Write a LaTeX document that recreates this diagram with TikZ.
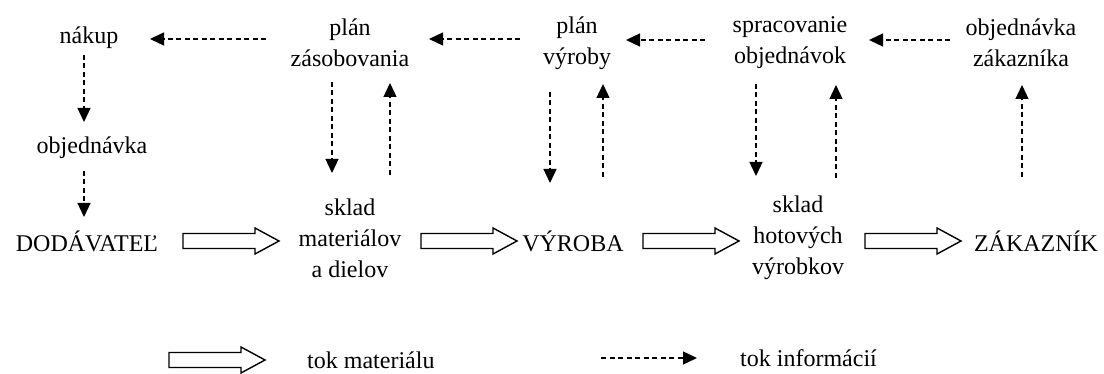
\documentclass[tikz,border=0pt]{standalone}
\usepackage{fontspec}
\setmainfont{Liberation Serif}
\usetikzlibrary{arrows.meta,calc}
\begin{document}
\begin{tikzpicture}[x=1pt,y=-1pt,
  every node/.style={font=\fontsize{24}{31}\selectfont, inner sep=0pt},
  lbl/.style={align=center},
  info/.style={draw=black, line width=1.3pt, dash pattern=on 5pt off 3.5pt,
    -{Triangle[width=13pt,length=14pt]}},
  matarrow/.pic={
    \draw[line width=1.4pt, fill=white, line join=miter]
      (-48,-7.5) -- (24,-7.5) -- (24,-13) -- (48,0) -- (24,13) -- (24,7.5)
      -- (-48,7.5) -- cycle;
  }
]
\useasboundingbox (0,0) rectangle (1104,374);

% information row
\node[lbl] (nakup) at (89,38)   {nákup};
\node[lbl] (objn)  at (92,148)  {objednávka};
\node[lbl] (zas)   at (350,43)  {plán\\zásobovania};
\node[lbl] (vyr)   at (577,43)  {plán\\výroby};
\node[lbl] (spr)   at (790,43)  {spracovanie\\objednávok};
\node[lbl] (obz)   at (1021,43) {objednávka\\zákazníka};

% material row
\node[lbl] (dod)    at (87,241)   {DODÁVATEĽ};
\node[lbl] (skm)    at (350,238)  {sklad\\materiálov\\a dielov};
\node[lbl] (vyroba) at (573,241)  {VÝROBA};
\node[lbl] (skh)    at (798,238)  {sklad\\hotových\\výrobkov};
\node[lbl] (zak)    at (1036,241) {ZÁKAZNÍK};

% material flow
\pic at (231,241) {matarrow};
\pic at (469,241) {matarrow};
\pic at (691,241) {matarrow};
\pic at (913,241) {matarrow};

% information flow, horizontal
\draw[info] ($(zas.center)+(-84,-4)$) -- ($(nakup.center)+(61,1)$);
\draw[info] ($(vyr.center)+(-57,-4)$) -- ($(zas.center)+(79,-4)$);
\draw[info] ($(spr.center)+(-85,-3)$) -- ($(vyr.center)+(49,-3)$);
\draw[info] ($(obz.center)+(-71,-3)$) -- ($(spr.center)+(79,-3)$);

% information flow, vertical
\draw[info] ($(nakup.center)+(-5,17)$) -- ($(objn.center)+(-8,-26)$);
\draw[info] ($(objn.center)+(-8,23)$) -- ($(dod.center)+(-3,-24)$);
\draw[info] ($(zas.center)+(-18,39)$) -- ($(skm.center)+(-18,-65)$);
\draw[info] ($(skm.center)+(40,-63)$) -- ($(zas.center)+(40,40)$);
\draw[info] ($(vyr.center)+(-27,49)$) -- ($(vyroba.center)+(-23,-58)$);
\draw[info] ($(vyroba.center)+(30,-64)$) -- ($(vyr.center)+(26,41)$);
\draw[info] ($(spr.center)+(-34,41)$) -- ($(skh.center)+(-42,-62)$);
\draw[info] ($(skh.center)+(38,-60)$) -- ($(spr.center)+(46,42)$);
\draw[info] ($(zak.center)+(-14,-64)$) -- ($(obz.center)+(1,42)$);

% legend
\pic at (217,360) {matarrow};
\node[anchor=west] (lmt) at (307,360) {tok materiálu};
\coordinate (la) at (601,358);
\coordinate (lb) at (697,358);
\draw[info] (la) -- (lb);
\node[anchor=west] (lit) at (740,358) {tok informácií};
\end{tikzpicture}
\end{document}
